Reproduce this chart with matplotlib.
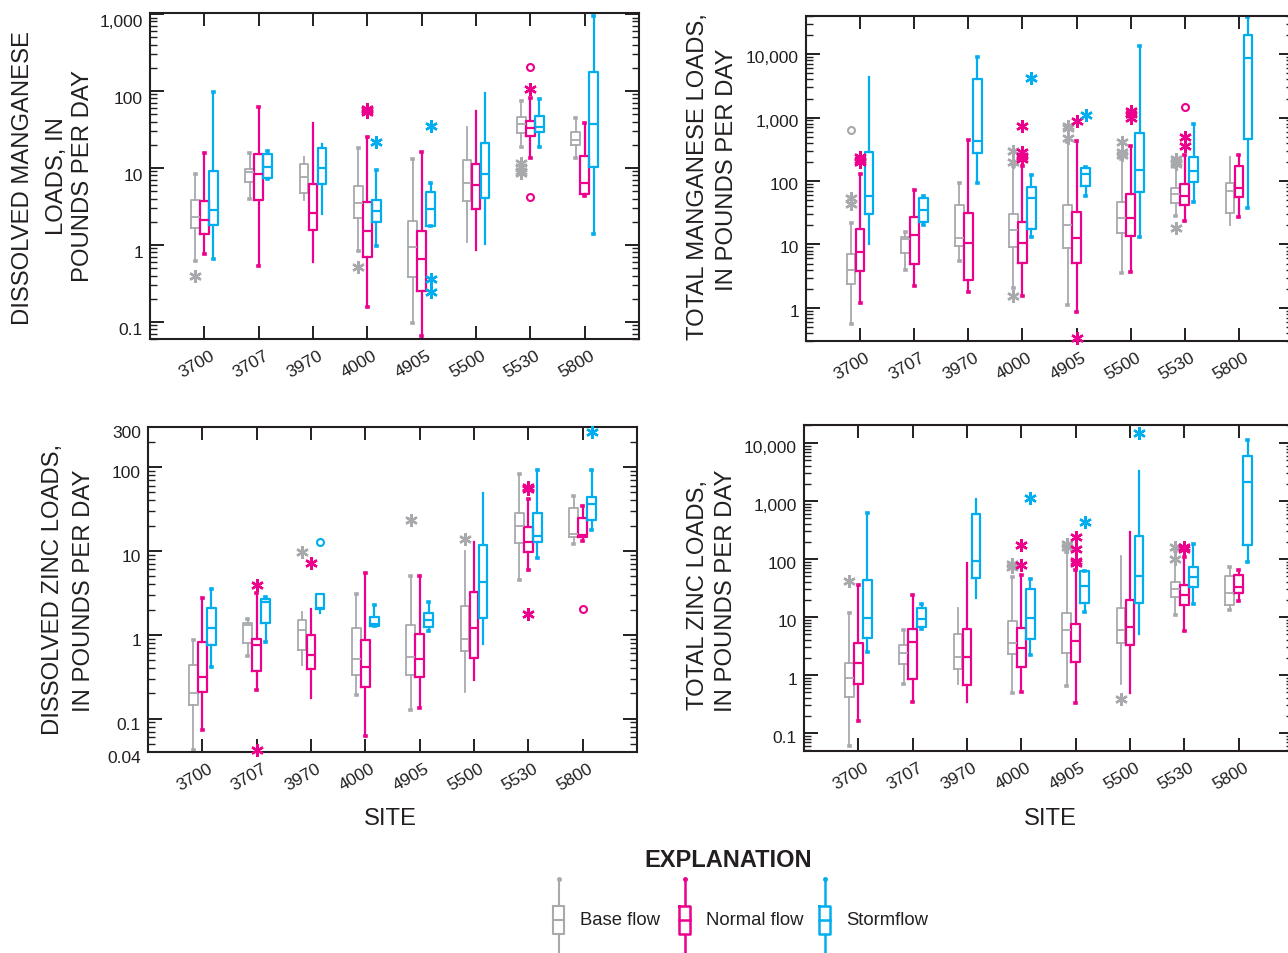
import matplotlib
matplotlib.use('Agg')
import matplotlib.pyplot as plt
import matplotlib.transforms as mtrans
from matplotlib.ticker import FixedLocator, NullFormatter, LogLocator
import numpy as np

plt.rcParams['font.family'] = ['Liberation Sans', 'DejaVu Sans']

# ---------------- data ----------------
sites = ['3700', '3707', '3970', '4000', '4905', '5500', '5530', '5800']
flow_names = ['Base flow', 'Normal flow', 'Stormflow']

# each row: [whisker low, Q1, median, Q3, whisker high]
dmn_base = [[0.61, 1.66, 2.28, 3.8, 8.3], [4.0, 6.5, 8.8, 9.8, 15.5], [3.86, 4.66, 7.6, 11.3, 14],
            [0.83, 2.23, 3.46, 5.8, 18.3], [0.098, 0.38, 0.95, 2.02, 13], [1.09, 3.67, 6.46, 12.8, 34],
            [18.9, 28.6, 37, 46, 75], [13.6, 20, 23, 29, 43.9]]
dmn_normal = [[0.77, 1.39, 2.1, 3.74, 15.5], [0.54, 3.8, 8.3, 15, 61.5], [0.6, 1.55, 2.6, 6.15, 38.6],
              [0.158, 0.7, 1.52, 3.6, 25.4], [0.066, 0.25, 0.66, 1.5, 16.3], [0.85, 2.95, 6.0, 11.4, 54.6],
              [13.6, 25.9, 32.6, 41, 81], [4.26, 4.6, 6.46, 14.3, 38.6]]
dmn_storm = [[0.65, 1.83, 2.86, 9.1, 96], [7.1, 7.3, 10.4, 15.2, 16.6], [2.5, 6.2, 10, 18.3, 20.4],
             [0.96, 2.0, 2.72, 3.86, 9.4], [1.78, 1.78, 2.93, 4.9, 6.4], [1.04, 4.1, 8.3, 21.3, 93],
             [18.9, 29, 34, 47, 79], [1.37, 10.2, 36.7, 176, 950]]
# outliers: (site index, value)
dmn_base_star = [(0, 0.40), (3, 0.51), (6, 11.5), (6, 10.4), (6, 9.25), (6, 8.5)]
dmn_base_circ = []
dmn_normal_star = [(3, 53.5), (3, 56), (3, 59), (6, 107)]
dmn_normal_circ = [(6, 205), (6, 4.17)]
dmn_storm_star = [(3, 21.9), (4, 35.3), (4, 0.363), (4, 0.244)]
dmn_storm_circ = []

tmn_base = [[0.55, 2.36, 3.97, 7.1, 21.8], [3.97, 7.35, 12.2, 13.3, 15.5], [5.5, 9.36, 12.5, 42.4, 93],
            [2.09, 9.1, 16.7, 30.2, 174], [1.11, 8.8, 20.5, 41.9, 406], [3.56, 15.2, 25.8, 46, 222],
            [28.5, 45, 62.4, 78.5, 164], [20.3, 31.3, 70.5, 93, 236]]
tmn_normal = [[1.2, 3.83, 7.5, 17.5, 130], [2.19, 4.93, 14.1, 26.8, 72], [1.81, 2.76, 10.4, 31, 448],
              [1.56, 5.1, 10.4, 22.9, 170], [0.875, 5.17, 12.7, 32.9, 432], [3.73, 13.6, 25.8, 62.4, 352],
              [23.7, 41.9, 57.4, 89.7, 260], [27.4, 55.3, 78.5, 174, 260]]
tmn_storm = [[10.2, 30.2, 57, 290, 4340], [20.5, 22.9, 34.5, 53.3, 58.7], [93, 276, 421, 4040, 9080],
             [13.1, 17.5, 53.3, 80.5, 126], [58.7, 84.5, 130, 160, 164], [13, 68, 151, 570, 13500],
             [46, 95, 146, 242, 790], [37.6, 459, 8550, 20150, 39200]]
tmn_base_star = [(0, 53), (0, 43), (3, 300), (3, 202), (3, 1.51), (4, 745), (4, 675), (4, 470),
                 (5, 406), (5, 290), (5, 257), (6, 220), (6, 200), (6, 185), (6, 18)]
tmn_base_circ = [(0, 635)]
tmn_normal_star = [(0, 236), (0, 197), (0, 215), (3, 744), (3, 290), (3, 250), (3, 220), (4, 870),
                   (4, 0.33), (5, 1290), (5, 1140), (5, 1000), (6, 499), (6, 360)]
tmn_normal_circ = [(6, 1445)]
tmn_storm_star = [(3, 4190), (4, 1095)]
tmn_storm_circ = []

dzn_base = [[0.042, 0.146, 0.2, 0.436, 0.855], [0.555, 0.8, 1.29, 1.39, 1.53], [0.43, 0.66, 1.13, 1.49, 1.87],
            [0.192, 0.33, 0.515, 1.2, 3.05], [0.126, 0.33, 0.54, 1.29, 5.0], [0.209, 0.64, 0.9, 2.19, 10],
            [4.5, 12.4, 20, 28.6, 81.7], [12.2, 14.6, 16, 32.5, 45.7]]
dzn_normal = [[0.073, 0.205, 0.31, 0.81, 2.78], [0.219, 0.366, 0.76, 0.88, 3.16], [0.177, 0.39, 0.58, 0.98, 2.05],
              [0.062, 0.24, 0.417, 0.86, 5.5], [0.134, 0.316, 0.51, 1.03, 5.06], [0.288, 0.53, 1.2, 3.22, 12.9],
              [5.86, 9.8, 12.8, 19.4, 42], [13.2, 14.6, 15.5, 25, 34]]
dzn_storm = [[0.417, 0.76, 1.2, 2.11, 3.56], [0.817, 1.39, 2.47, 2.65, 2.83], [1.82, 2.05, 2.09, 3.05, 3.05],
             [1.26, 1.27, 1.36, 1.61, 2.25], [1.1, 1.24, 1.51, 1.84, 2.44], [0.77, 1.6, 4.29, 11.8, 48.8],
             [8.2, 12.7, 15.1, 28.6, 92], [17.9, 23.3, 36.3, 43.6, 92]]
dzn_base_star = [(2, 9.6), (4, 23.1), (5, 13.8)]
dzn_base_circ = []
dzn_normal_star = [(1, 3.9), (1, 0.042), (2, 7.24), (6, 58), (6, 54), (6, 56), (6, 1.75)]
dzn_normal_circ = [(7, 2.05)]
dzn_storm_star = [(7, 260)]
dzn_storm_circ = [(2, 12.6)]

tzn_base = [[0.06, 0.42, 0.9, 1.61, 11.6], [0.7, 1.55, 2.43, 3.29, 5.97], [0.7, 1.27, 2.04, 5.1, 14.5],
            [0.49, 2.3, 3.56, 8.65, 48.3], [0.64, 2.43, 5.89, 11.9, 130], [0.7, 3.51, 6.05, 14.3, 114],
            [10.8, 22.4, 30.4, 40.7, 139], [13.4, 16.3, 25.9, 51.6, 73.8]]
tzn_normal = [[0.161, 0.7, 1.61, 3.56, 36], [0.347, 0.853, 3.66, 6.2, 24.3], [0.347, 0.67, 2.02, 6.2, 85],
              [0.516, 1.39, 2.88, 6.38, 53.7], [0.325, 1.7, 3.9, 7.57, 65.5], [0.49, 3.29, 6.81, 19.6, 288],
              [5.81, 16.3, 24.3, 36, 107], [18.9, 25.9, 32.5, 53, 65.5]]
tzn_storm = [[2.46, 4.35, 9.7, 43.4, 621], [6.2, 6.63, 9.36, 14.3, 16.8], [21, 47, 92.4, 605, 1082],
             [2.24, 4.18, 9.7, 30, 45.2], [12.4, 17.4, 34.7, 63, 63], [5.09, 17.7, 51, 246, 3250],
             [16.8, 33.3, 48.3, 71.8, 181], [87.6, 174, 2150, 6050, 11270]]
tzn_base_star = [(0, 41), (3, 82), (3, 72), (4, 181), (4, 159), (5, 0.386), (6, 163), (6, 100)]
tzn_base_circ = []
tzn_normal_star = [(3, 177), (3, 80), (4, 236), (4, 149), (4, 94), (4, 84), (6, 163), (6, 150)]
tzn_normal_circ = []
tzn_storm_star = [(3, 1127), (4, 429), (5, 14900)]
tzn_storm_circ = []

ytick_dmn = [0.1, 1, 10, 100, 1000]
ytick_dmn_lab = ['0.1', '1', '10', '100', '1,000']
ytick_tmn = [1, 10, 100, 1000, 10000]
ytick_tmn_lab = ['1', '10', '100', '1,000', '10,000']
ytick_dzn = [0.04, 0.1, 1, 10, 100, 300]
ytick_dzn_lab = ['0.04', '0.1', '1', '10', '100', '300']
ytick_tzn = [0.1, 1, 10, 100, 1000, 10000]
ytick_tzn_lab = ['0.1', '1', '10', '100', '1,000', '10,000']

# ---------------- style ----------------
W, H = 1288, 954
TXT = '#231f20'
COLORS = ['#a7a9ac', '#ec008c', '#00aeef']
LWS = [1.3, 1.6, 1.6]
OFFS = [-0.166, 0.0, 0.166]

fig = plt.figure(figsize=(W / 100, H / 100), dpi=100)


def ax_at(l, t, r, b):
    return fig.add_axes([l / W, 1 - b / H, (r - l) / W, (b - t) / H])


def draw_panel(ax, groups, ylim, yticks, ylabels, ylab_drop):
    for k, (stats, stars, circs) in enumerate(groups):
        col, lw, off = COLORS[k], LWS[k], OFFS[k]
        bs = [dict(whislo=s[0], q1=s[1], med=s[2], q3=s[3], whishi=s[4], fliers=[]) for s in stats]
        pos = np.arange(1, len(stats) + 1) + off
        ax.bxp(bs, positions=pos, widths=0.16, showfliers=False, capwidths=0.015,
               boxprops=dict(color=col, lw=lw), medianprops=dict(color=col, lw=lw),
               whiskerprops=dict(color=col, lw=lw), capprops=dict(color=col, lw=2.6),
               manage_ticks=False)
        if stars:
            xi = [i + 1 + off for i, v in stars]
            yv = [v for i, v in stars]
            ax.plot(xi, yv, ls='none', marker=(6, 2, 0), ms=9, mew=1.7, color=col, clip_on=False, zorder=3)
        if circs:
            xi = [i + 1 + off for i, v in circs]
            yv = [v for i, v in circs]
            ax.plot(xi, yv, ls='none', marker='o', ms=5, mew=1.5, mfc='none', mec=col, clip_on=False, zorder=3)
    ax.set_yscale('log')
    ax.set_ylim(*ylim)
    ax.set_xlim(0, 9)
    ax.yaxis.set_major_locator(FixedLocator(yticks))
    ax.set_yticklabels(ylabels)
    ax.yaxis.set_minor_locator(LogLocator(base=10, subs=np.arange(2, 10)))
    ax.yaxis.set_minor_formatter(NullFormatter())
    ax.set_xticks(np.arange(1, 9))
    ax.set_xticklabels(sites, rotation=30, ha='right', rotation_mode='anchor', fontsize=12.5, color=TXT)
    ax.tick_params(axis='both', which='both', direction='in', top=True, right=True, colors=TXT)
    ax.tick_params(axis='x', which='major', length=9.5, width=1.4, pad=6, labelsize=12.5)
    ax.tick_params(axis='x', which='minor', top=False, bottom=False)
    ax.tick_params(axis='y', which='major', length=10, width=1.4, pad=5, labelsize=12.5, labelcolor=TXT)
    ax.tick_params(axis='y', which='minor', length=5, width=1.0)
    for sp in ax.spines.values():
        sp.set_linewidth(1.5)
        sp.set_color(TXT)
    # label offsets (applied after tick_params so they are not reset)
    shift = mtrans.ScaledTranslation(5 / 100, 0, fig.dpi_scale_trans)
    for t in ax.xaxis.get_major_ticks():
        t.label1.set_transform(t.label1.get_transform() + shift)
    drop = mtrans.ScaledTranslation(0, -ylab_drop / 100, fig.dpi_scale_trans)
    for t in ax.yaxis.get_major_ticks():
        t.label1.set_transform(t.label1.get_transform() + drop)


axA = ax_at(150, 14, 639, 340)
draw_panel(axA, [(dmn_base, dmn_base_star, dmn_base_circ),
                 (dmn_normal, dmn_normal_star, dmn_normal_circ),
                 (dmn_storm, dmn_storm_star, dmn_storm_circ)],
           (0.06, 1030), ytick_dmn, ytick_dmn_lab, 6)

axB = ax_at(806, 17, 1293, 342)
draw_panel(axB, [(tmn_base, tmn_base_star, tmn_base_circ),
                 (tmn_normal, tmn_normal_star, tmn_normal_circ),
                 (tmn_storm, tmn_storm_star, tmn_storm_circ)],
           (0.3, 40000), ytick_tmn, ytick_tmn_lab, 2)

axC = ax_at(148, 428, 637, 753)
draw_panel(axC, [(dzn_base, dzn_base_star, dzn_base_circ),
                 (dzn_normal, dzn_normal_star, dzn_normal_circ),
                 (dzn_storm, dzn_storm_star, dzn_storm_circ)],
           (0.04, 300), ytick_dzn, ytick_dzn_lab, 4)

axD = ax_at(804, 426, 1293, 752)
draw_panel(axD, [(tzn_base, tzn_base_star, tzn_base_circ),
                 (tzn_normal, tzn_normal_star, tzn_normal_circ),
                 (tzn_storm, tzn_storm_star, tzn_storm_circ)],
           (0.049, 20400), ytick_tzn, ytick_tzn_lab, 3)

# axis titles
YL = 17.2


def vtext(x, y, s):
    fig.text(x / W, 1 - y / H, s, rotation=90, ha='center', va='center', fontsize=YL, color=TXT)


vtext(23, 178, 'DISSOLVED MANGANESE')
vtext(57, 176, 'LOADS, IN')
vtext(83, 176, 'POUNDS PER DAY')
vtext(698, 177, 'TOTAL MANGANESE LOADS,')
vtext(727, 170, 'IN POUNDS PER DAY')
vtext(53, 589, 'DISSOLVED ZINC LOADS,')
vtext(84, 591, 'IN POUNDS PER DAY')
vtext(698, 595, 'TOTAL ZINC LOADS,')
vtext(726, 591, 'IN POUNDS PER DAY')
fig.text(390 / W, 1 - 819 / H, 'SITE', ha='center', va='center', fontsize=YL, color=TXT)
fig.text(1050 / W, 1 - 819 / H, 'SITE', ha='center', va='center', fontsize=YL, color=TXT)

# explanation / legend
lg = fig.add_axes([0, 0, 1, 1], zorder=-1)
lg.set_xlim(0, W)
lg.set_ylim(H, 0)
lg.axis('off')
lg.text(728, 861, 'EXPLANATION', ha='center', va='center', fontsize=17, fontweight='bold', color=TXT)
leg_x = [559, 685, 825]
for k, cx in enumerate(leg_x):
    col, lw = COLORS[k], LWS[k] + 0.2
    lg.plot([cx, cx], [880, 907], color=col, lw=lw, solid_capstyle='butt')
    lg.plot([cx, cx], [935, 956], color=col, lw=lw, solid_capstyle='butt')
    lg.plot([cx - 5.5, cx + 5.5, cx + 5.5, cx - 5.5, cx - 5.5], [907, 907, 935, 935, 907], color=col, lw=lw)
    lg.plot([cx - 5.5, cx + 5.5], [921, 921], color=col, lw=lw)
    lg.plot([cx], [880], marker='o', ms=2.5, color=col)
    lg.text(cx + 21, 921, flow_names[k], ha='left', va='center', fontsize=13.3, color=TXT)

fig.savefig('out.png', dpi=100)
